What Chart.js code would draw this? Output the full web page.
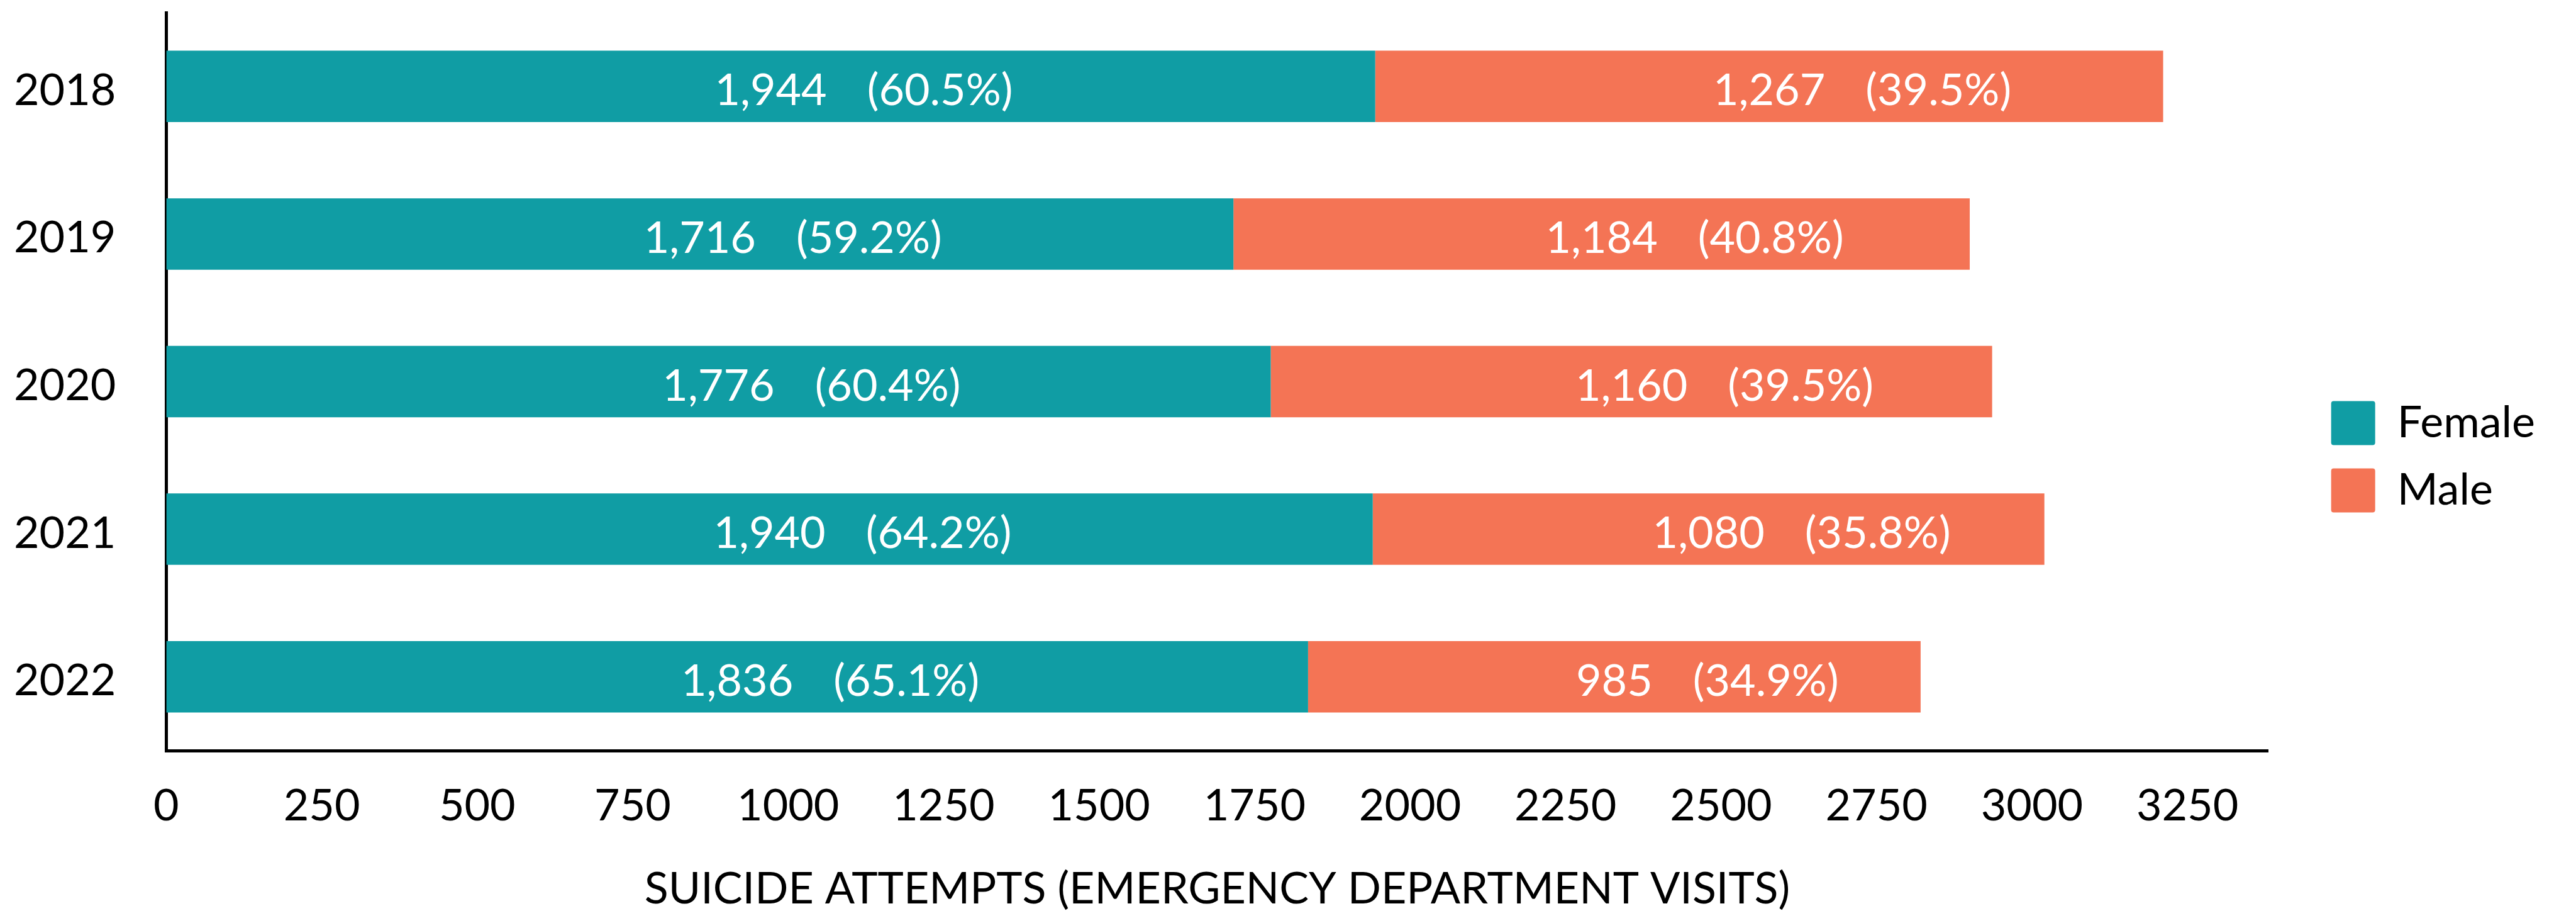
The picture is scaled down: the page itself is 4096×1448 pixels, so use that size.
<!DOCTYPE html>
<html>
<head>
<meta charset="utf-8">
<script src="https://cdn.jsdelivr.net/npm/chart.js@4.4.1/dist/chart.umd.min.js"></script>
<style>
  html, body { margin: 0; padding: 0; background: #fff; }
  #wrap { width: 4096px; height: 1448px; }
</style>
</head>
<body>
<div id="wrap"><canvas id="attemptsChart"></canvas></div>
<script>
// values
const years = ['2018', '2019', '2020', '2021', '2022'];
const female = [1944, 1716, 1776, 1940, 1836];
const male = [1267, 1184, 1160, 1080, 985];
const femalePct = ['60.5%', '59.2%', '60.4%', '64.2%', '65.1%'];
const malePct = ['39.5%', '40.8%', '39.5%', '35.8%', '34.9%'];
const xTicks = [0, 250, 500, 750, 1000, 1250, 1500, 1750, 2000, 2250, 2500, 2750, 3000, 3250];
const xMax = 3380;
const axisTitle = 'SUICIDE ATTEMPTS (EMERGENCY DEPARTMENT VISITS)';

const FONT = 70;
Chart.defaults.font.family = 'Lato';
Chart.defaults.color = '#000';

// number centred in its segment, percentage following it
const barLabels = {
    id: 'barLabels',
    afterDatasetsDraw(chart) {
        const ctx = chart.ctx;
        ctx.save();
        ctx.font = FONT + 'px Lato';
        ctx.fillStyle = '#fff';
        ctx.textBaseline = 'alphabetic';
        chart.data.datasets.forEach((ds, i) => {
            chart.getDatasetMeta(i).data.forEach((bar, j) => {
                const num = ds.data[j].toLocaleString('en-US');
                const cx = (bar.x + bar.base) / 2;
                const y = bar.y + 30;
                const w = ctx.measureText(num).width;
                ctx.textAlign = 'center';
                ctx.fillText(num, cx, y);
                ctx.textAlign = 'left';
                ctx.fillText('(' + ds.pct[j] + ')', cx + w / 2 + 64, y);
            });
        });
        ctx.restore();
    }
};

// move the legend block a little right and up
const legendNudge = {
    id: 'legendNudge',
    afterLayout(chart) {
        const lg = chart.legend;
        lg.left += 63; lg.right += 63;
        lg.top -= 8; lg.bottom -= 8;
    }
};

const ctx = document.getElementById('attemptsChart').getContext('2d');

new Chart(ctx, {
    type: 'bar',
    data: {
        labels: years,
        datasets: [{
            label: 'Female',
            data: female,
            pct: femalePct,
            backgroundColor: '#109da4',
            borderWidth: 0,
            barPercentage: 0.484,
            categoryPercentage: 1
        }, {
            label: 'Male',
            data: male,
            pct: malePct,
            backgroundColor: '#f47455',
            borderWidth: 0,
            barPercentage: 0.484,
            categoryPercentage: 1
        }]
    },
    options: {
        indexAxis: 'y',
        responsive: true,
        maintainAspectRatio: false,
        animation: false,
        layout: { padding: { top: 20, left: 22, right: 118, bottom: 0 } },
        scales: {
            x: {
                stacked: true,
                min: 0,
                max: xMax,
                afterBuildTicks: scale => {
                    scale.ticks = xTicks.map(v => ({ value: v }));
                },
                // chart.js reserves the tick padding twice; keep it once
                afterFit: scale => {
                    scale.height -= scale.options.ticks.padding;
                },
                ticks: {
                    padding: 46,
                    autoSkip: false,
                    maxRotation: 0,
                    font: { size: FONT },
                    callback: v => String(v)
                },
                grid: { display: false, drawTicks: false },
                border: { display: true, color: '#000', width: 5 },
                title: {
                    display: true,
                    text: axisTitle,
                    font: { size: FONT, lineHeight: 1 },
                    padding: { top: 55, bottom: 0 }
                }
            },
            y: {
                stacked: true,
                afterFit: scale => {
                    scale.width -= scale.options.ticks.padding;
                    scale.paddingTop = 0;
                    scale.paddingBottom = 0;
                },
                ticks: { padding: 80, labelOffset: 7, font: { size: FONT } },
                grid: { display: false, drawTicks: false },
                border: { display: true, color: '#000', width: 5 }
            }
        },
        plugins: {
            legend: {
                position: 'right',
                align: 'center',
                labels: {
                    boxWidth: 70,
                    boxHeight: 70,
                    padding: 37,
                    useBorderRadius: true,
                    borderRadius: 4,
                    font: { size: FONT }
                }
            },
            tooltip: { enabled: false }
        }
    },
    plugins: [barLabels, legendNudge]
});
</script>
</body>
</html>
